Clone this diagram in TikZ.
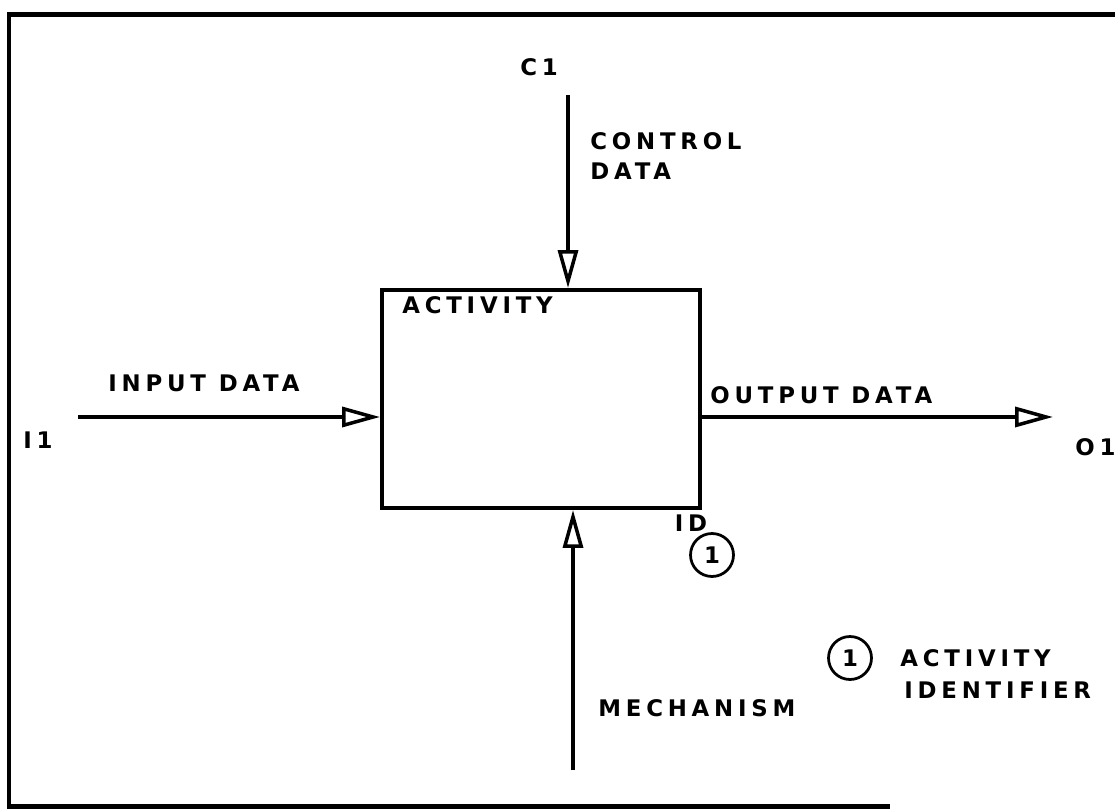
\documentclass[tikz,border=0pt]{standalone}
\usepackage{fontspec}
\newfontfamily\lett[LetterSpace=21]{DejaVu Sans}
\usetikzlibrary{arrows.meta,positioning}
\tikzset{
  lbl/.style={font=\lett\bfseries\fontsize{13}{16}\selectfont, inner sep=0pt, align=left},
  actbox/.style={draw, line width=0.08cm, minimum width=6.36cm, minimum height=4.36cm, inner sep=0pt},
  flow/.style={-{Triangle[open,length=7.6mm,width=4mm,line width=2pt]}, line width=0.07cm},
  idcirc/.style={draw, circle, line width=0.055cm, minimum size=0.86cm, inner sep=0pt,
                 font=\lett\bfseries\fontsize{13}{16}\selectfont},
}

\begin{document}
\begin{tikzpicture}[x=0.02cm,y=-0.02cm]
    \useasboundingbox (0,0) rectangle (1115,810);
    % sheet frame
    \draw[line width=0.1cm] (1115,15) -- (9,15) -- (9,806) -- (890,806);
    % activity box
    \node[actbox] (act) at (541,399) {};
    \node[lbl,anchor=west] (actname) at (402,305) {ACTIVITY};
    % control
    \coordinate (c1) at (568,95);
    \draw[flow] (c1) -- (c1 |- act.north);
    \node[lbl] (c1lbl) at (539,67) {C1};
    \node[lbl,anchor=north west] (ctrl) at (590,132) {CONTROL\\[1pt]DATA};
    % input
    \coordinate (i1) at (78,417);
    \draw[flow] (i1) -- (i1 -| act.west);
    \node[lbl,anchor=west] (inlbl) at (108,383) {INPUT DATA};
    \node[lbl] (i1lbl) at (38,440) {I1};
    % output
    \coordinate (o1) at (1053,417);
    \draw[flow] (o1 -| act.east) -- (o1);
    \node[lbl,anchor=west] (outlbl) at (710,395) {OUTPUT DATA};
    \node[lbl,anchor=west] (o1lbl) at (1075,447) {O1};
    % mechanism
    \coordinate (m1) at (573,770);
    \draw[flow] (m1) -- (m1 |- act.south);
    \node[lbl,anchor=west] (mechlbl) at (598,708) {MECHANISM};
    % activity identifier
    \node[lbl] (idlbl) at (691,523) {ID};
    \node[idcirc] (idnum) at (712,555) {1};
    \node[idcirc] (keynum) at (850,658) {1};
    \node[lbl,anchor=west] (keyact) at (900,658) {ACTIVITY};
    \node[lbl,anchor=west] (keyid) at (904,690) {IDENTIFIER};
\end{tikzpicture}
\end{document}
